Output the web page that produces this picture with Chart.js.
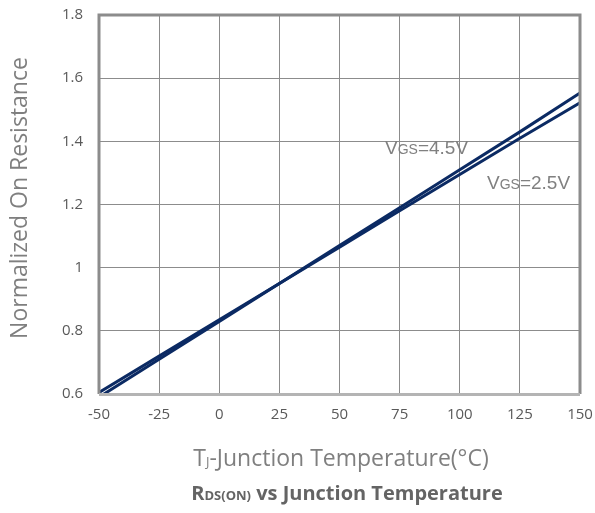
<!DOCTYPE html>
<html>
<head>
<meta charset="utf-8">
<script src="https://cdn.jsdelivr.net/npm/chart.js@4"></script>
<style>
  html, body { margin: 0; padding: 0; background: #fff; }
  #wrap { width: 595px; height: 513px; }
</style>
</head>
<body>
<div id="wrap"><canvas id="rdsChart" width="595" height="513"></canvas></div>
<script>
// junction temperature (°C)
const temps = [-50, -25, 0, 25, 50, 75, 100, 125, 150];
// normalized on resistance
const vgs45 = [0.59, 0.71, 0.83, 0.95, 1.07, 1.19, 1.31, 1.43, 1.553];
const vgs25 = [0.605, 0.72, 0.835, 0.95, 1.065, 1.18, 1.295, 1.41, 1.522];
const seriesNames = ['VGS=4.5V', 'VGS=2.5V'];

const lineColor = '#0b2a63';
const gridColor = '#8c8c8c';
const tickColor = '#595959';
const titleColor = '#7f7f7f';

function toPoints(ys) {
    return temps.map((t, i) => ({ x: t, y: ys[i] }));
}

// draws text made of pieces with different sizes (for subscripts)
function drawRuns(ctx, runs, cx, cy, align) {
    let total = 0;
    runs.forEach(r => { ctx.font = r.font; total += ctx.measureText(r.text).width; });
    let x = align === 'left' ? cx : cx - total / 2;
    ctx.textBaseline = 'alphabetic';
    ctx.textAlign = 'left';
    runs.forEach(r => {
        ctx.font = r.font;
        ctx.fillStyle = r.color;
        ctx.fillText(r.text, x, cy);
        x += ctx.measureText(r.text).width;
    });
}

const decorPlugin = {
    id: 'decor',
    afterDraw(chart) {
        const ctx = chart.ctx;
        const a = chart.chartArea;
        ctx.save();
        // frame
        ctx.lineWidth = 3;
        ctx.strokeStyle = gridColor;
        ctx.beginPath();
        ctx.moveTo(a.left, a.bottom);
        ctx.lineTo(a.left, a.top);
        ctx.lineTo(a.right, a.top);
        ctx.lineTo(a.right, a.bottom);
        ctx.stroke();
        ctx.strokeStyle = '#b4b4b4';
        ctx.beginPath();
        ctx.moveTo(a.left, a.bottom + 0.5);
        ctx.lineTo(a.right, a.bottom + 0.5);
        ctx.stroke();

        // series labels
        const lab = '#808080';
        drawRuns(ctx, [
            { text: 'V', font: '19px "Liberation Sans"', color: lab },
            { text: 'GS', font: '14px "Liberation Sans"', color: lab },
            { text: '=4.5V', font: '19px "Liberation Sans"', color: lab }
        ], 385, 154, 'left');
        drawRuns(ctx, [
            { text: 'V', font: '19px "Liberation Sans"', color: lab },
            { text: 'GS', font: '14px "Liberation Sans"', color: lab },
            { text: '=2.5V', font: '19px "Liberation Sans"', color: lab }
        ], 487, 189, 'left');

        // x axis title
        drawRuns(ctx, [
            { text: 'T', font: '23px "Open Sans"', color: titleColor },
            { text: 'J', font: '13px "Open Sans"', color: titleColor },
            { text: '-Junction Temperature(°C)', font: '23px "Open Sans"', color: titleColor }
        ], 341, 466, 'center');

        // chart caption
        drawRuns(ctx, [
            { text: 'R', font: 'bold 20px "Open Sans"', color: '#646464' },
            { text: 'DS(ON)', font: 'bold 13px "Open Sans"', color: '#646464' },
            { text: ' vs Junction Temperature', font: 'bold 20px "Open Sans"', color: '#646464' }
        ], 347, 500, 'center');

        // y axis title
        ctx.translate(20, 198);
        ctx.rotate(-Math.PI / 2);
        ctx.font = '23px "Open Sans"';
        ctx.fillStyle = titleColor;
        ctx.textAlign = 'center';
        ctx.textBaseline = 'middle';
        ctx.fillText('Normalized On Resistance', 0, 0);
        ctx.restore();
    }
};

const ctx = document.getElementById('rdsChart').getContext('2d');
new Chart(ctx, {
    type: 'line',
    data: {
        datasets: [
            { label: seriesNames[0], data: toPoints(vgs45), borderColor: lineColor, borderWidth: 3, pointRadius: 0, tension: 0, fill: false },
            { label: seriesNames[1], data: toPoints(vgs25), borderColor: lineColor, borderWidth: 3, pointRadius: 0, tension: 0, fill: false }
        ]
    },
    options: {
        responsive: false,
        animation: false,
        layout: { padding: { top: 15, right: 15, left: 0, bottom: 0 } },
        plugins: {
            legend: { display: false },
            tooltip: { enabled: false }
        },
        scales: {
            x: {
                type: 'linear',
                min: -50,
                max: 150,
                ticks: { stepSize: 25, color: tickColor, font: { family: 'Open Sans', size: 15 }, padding: 12, maxRotation: 0 },
                grid: { color: gridColor, lineWidth: 1, drawTicks: false },
                border: { display: false },
                afterFit(scale) {
                    scale.height = 119;
                    scale.paddingLeft = 0;
                    scale.paddingRight = 0;
                }
            },
            y: {
                min: 0.6,
                max: 1.8,
                ticks: {
                    stepSize: 0.2,
                    color: tickColor,
                    font: { family: 'Open Sans', size: 15 },
                    padding: 16,
                    callback: v => Number(v.toFixed(1)).toString()
                },
                grid: { color: gridColor, lineWidth: 1, drawTicks: false },
                border: { display: false },
                afterFit(scale) {
                    scale.width = 99;
                    scale.paddingTop = 0;
                    scale.paddingBottom = 0;
                }
            }
        }
    },
    plugins: [decorPlugin]
});
</script>
</body>
</html>
